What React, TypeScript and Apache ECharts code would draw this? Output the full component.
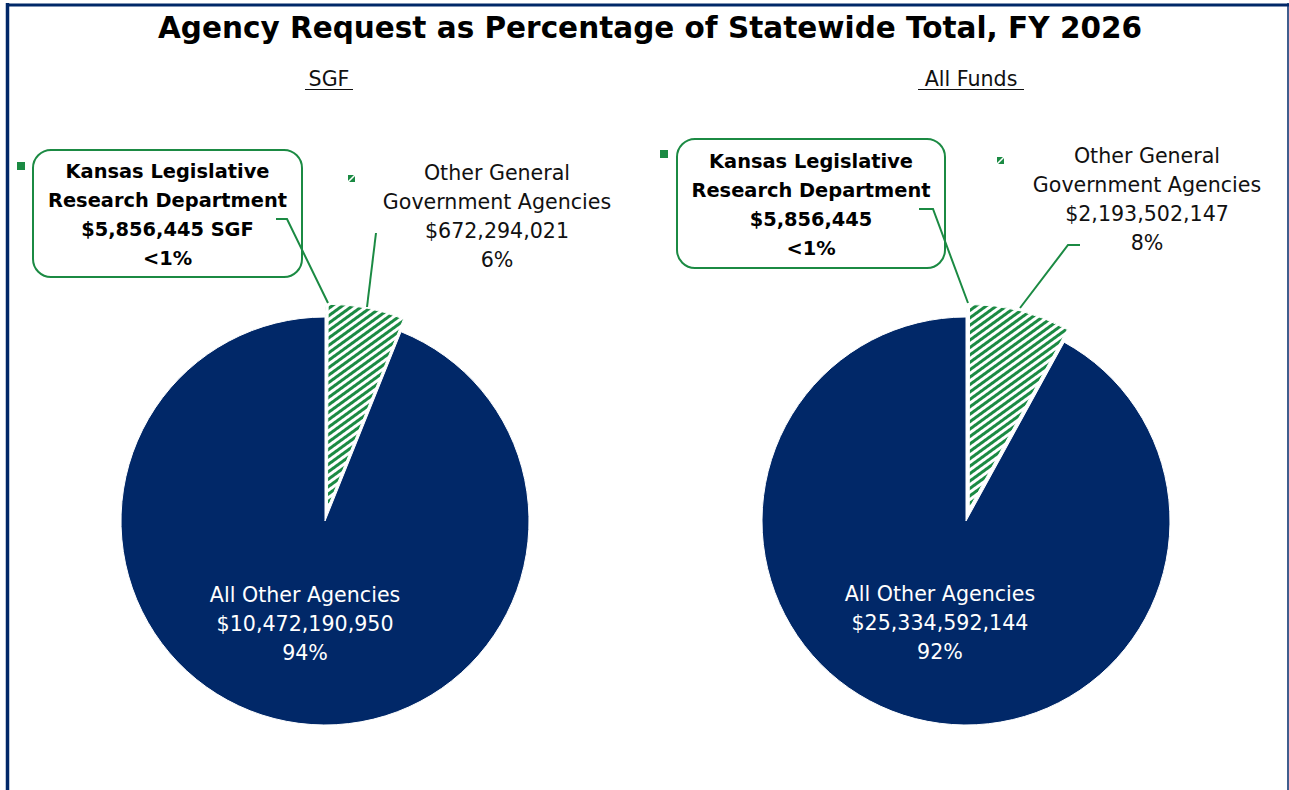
import React, { useEffect, useRef } from "react";
import * as echarts from "echarts";

const categories = ["Kansas Legislative\nResearch Department", "Other General\nGovernment Agencies", "All Other Agencies"];
const sgfValues = [5856445, 672294021, 10472190950];
const allFundsValues = [5856445, 2193502147, 25334592144];
const sgfPercentLabels = ["<1%", "6%", "94%"];
const allFundsPercentLabels = ["<1%", "8%", "92%"];
const chartTitle = "Agency Request as Percentage of Statewide Total, FY 2026";
const pieTitles = ["SGF", "All Funds"];

const NAVY = "#012868";
const GREEN = "#1b8a43";
const FONT = "DejaVu Sans";
const BODY = 20.6;
const BOLD = 19.4;

function money(v: number) {
  return "$" + v.toLocaleString("en-US");
}

function makeSeries(values: number[], pcts: string[], center: number[]) {
  const hatch = {
    color: "#ffffff",
    borderColor: "#ffffff",
    borderWidth: 1,
    decal: {
      symbol: "rect",
      symbolSize: 1,
      color: GREEN,
      dashArrayX: [1, 0],
      dashArrayY: [2.5, 2.1],
      rotation: -Math.PI / 5,
    },
  };
  return {
    type: "pie",
    center,
    radius: 204,
    startAngle: 90,
    clockwise: true,
    selectedMode: "multiple",
    selectedOffset: 13,
    avoidLabelOverlap: false,
    emphasis: { disabled: true },
    labelLine: { show: false },
    data: [
      { name: categories[0], value: values[0], selected: true, itemStyle: hatch, select: { itemStyle: hatch }, label: { show: false } },
      { name: categories[1], value: values[1], selected: true, itemStyle: hatch, select: { itemStyle: hatch }, label: { show: false } },
      {
        name: categories[2],
        value: values[2],
        itemStyle: { color: NAVY, borderColor: "#ffffff", borderWidth: 1 },
        label: {
          show: true,
          position: "inside",
          formatter: () => `${categories[2]}\n${money(values[2])}\n${pcts[2]}`,
          fontFamily: FONT,
          fontSize: BODY,
          lineHeight: 29,
          color: "#ffffff",
          align: "center",
        },
      },
    ],
  };
}

function calloutGraphics(
  values: number[],
  pcts: string[],
  suffix: string,
  box: { x: number; y: number; w: number; h: number },
  klrdText: { x: number; y: number },
  klrdLine: number[][],
  key: { x: number; y: number },
  ogg: { x: number; y: number },
  oggLine: number[][],
  oggKey: { x: number; y: number }
) {
  return [
    { type: "rect", shape: { x: box.x, y: box.y, width: box.w, height: box.h, r: 18 }, style: { fill: "#fff", stroke: GREEN, lineWidth: 2 }, z: 10 },
    {
      type: "text",
      x: klrdText.x,
      y: klrdText.y,
      z: 11,
      style: {
        text: `${categories[0]}\n${money(values[0])}${suffix}\n${pcts[0]}`,
        fontFamily: FONT,
        fontWeight: "bold",
        fontSize: BOLD,
        lineHeight: 29,
        fill: "#000",
        align: "center",
        verticalAlign: "middle",
      },
    },
    { type: "polyline", z: 12, shape: { points: klrdLine }, style: { stroke: GREEN, lineWidth: 2, fill: "none" } },
    { type: "rect", z: 10, shape: { x: key.x, y: key.y, width: 8, height: 8 }, style: { fill: GREEN } },
    {
      type: "text",
      x: ogg.x,
      y: ogg.y,
      z: 11,
      style: {
        text: `${categories[1]}\n${money(values[1])}\n${pcts[1]}`,
        fontFamily: FONT,
        fontSize: BODY,
        lineHeight: 29,
        fill: "#111",
        align: "center",
        verticalAlign: "middle",
      },
    },
    { type: "polyline", z: 12, shape: { points: oggLine }, style: { stroke: GREEN, lineWidth: 2, fill: "none" } },
    { type: "rect", z: 10, shape: { x: oggKey.x, y: oggKey.y, width: 7, height: 7 }, style: { fill: GREEN } },
    {
      type: "line",
      z: 11,
      shape: { x1: oggKey.x - 0.5, y1: oggKey.y + 7.5, x2: oggKey.x + 7.5, y2: oggKey.y - 0.5 },
      style: { stroke: "#fff", lineWidth: 1.6 },
    },
  ];
}

export default function App() {
  const ref = useRef<HTMLDivElement>(null);
  useEffect(() => {
    if (!ref.current) return;
    const chart = echarts.init(ref.current, null, { renderer: "svg" });
    const option: any = {
      animation: false,
      backgroundColor: "#ffffff",
      graphic: [
        { type: "line", shape: { x1: 7.5, y1: 3, x2: 7.5, y2: 790 }, style: { stroke: NAVY, lineWidth: 3.5 } },
        { type: "line", shape: { x1: 6, y1: 5, x2: 1289, y2: 5 }, style: { stroke: NAVY, lineWidth: 3 } },
        { type: "line", shape: { x1: 1288, y1: 3, x2: 1288, y2: 790 }, style: { stroke: NAVY, lineWidth: 1.5 } },
        {
          type: "text",
          x: 650,
          y: 28,
          style: { text: chartTitle, fontFamily: FONT, fontWeight: "bold", fontSize: 29.5, fill: "#000", align: "center", verticalAlign: "middle" },
        },
        {
          type: "text",
          x: 329,
          y: 79,
          style: { text: pieTitles[0], fontFamily: FONT, fontSize: BODY, fill: "#111", align: "center", verticalAlign: "middle" },
        },
        {
          type: "text",
          x: 971,
          y: 79,
          style: { text: pieTitles[1], fontFamily: FONT, fontSize: BODY, fill: "#111", align: "center", verticalAlign: "middle" },
        },
        { type: "line", shape: { x1: 305, y1: 89.5, x2: 353, y2: 89.5 }, style: { stroke: "#111", lineWidth: 1.2 } },
        { type: "line", shape: { x1: 918, y1: 89.5, x2: 1024, y2: 89.5 }, style: { stroke: "#111", lineWidth: 1.2 } },
        ...calloutGraphics(
          sgfValues,
          sgfPercentLabels,
          " SGF",
          { x: 33, y: 150, w: 269, h: 127 },
          { x: 167.5, y: 215 },
          [[328, 303], [287, 219], [276, 219]],
          { x: 17, y: 162 },
          { x: 497, y: 216 },
          [[367, 307], [376, 233]],
          { x: 348, y: 175 }
        ),
        ...calloutGraphics(
          allFundsValues,
          allFundsPercentLabels,
          "",
          { x: 677, y: 139, w: 268, h: 129 },
          { x: 811, y: 204.5 },
          [[968, 303], [933, 209], [919, 209]],
          { x: 660, y: 150 },
          { x: 1147, y: 199.5 },
          [[1020, 308], [1068, 245], [1080, 245]],
          { x: 997, y: 157 }
        ),
      ],
      series: [
        makeSeries(sgfValues, sgfPercentLabels, [325, 521]),
        makeSeries(allFundsValues, allFundsPercentLabels, [966, 521]),
      ],
    };
    chart.setOption(option);
    return () => chart.dispose();
  }, []);
  return <div ref={ref} style={{ position: "absolute", left: 0, top: 0, width: 1289, height: 790 }} />;
}
